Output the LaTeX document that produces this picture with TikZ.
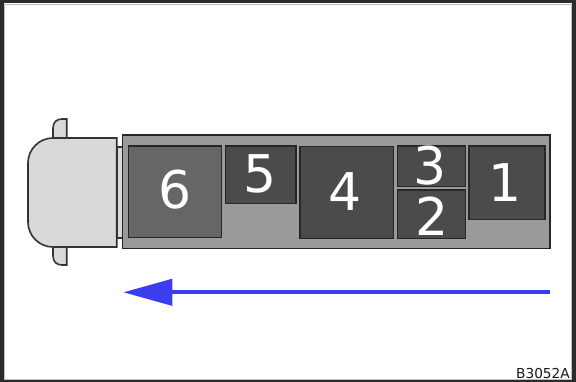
\documentclass[tikz,border=0pt]{standalone}
\usepackage{fontspec}
\setmainfont{DejaVu Sans}
\usetikzlibrary{arrows.meta}
\definecolor{framec}{HTML}{2B2B2B}
\definecolor{cabc}{HTML}{D9D9D9}
\definecolor{edgec}{HTML}{333333}
\definecolor{trailc}{HTML}{9A9A9A}
\definecolor{boxc}{HTML}{4B4B4B}
\definecolor{bigc}{HTML}{666666}
\definecolor{arrowc}{HTML}{3C3CF0}
\tikzset{
  cabpart/.style={draw=edgec, fill=cabc, line width=1.6pt},
  cargo/.style={draw=black!85, fill=boxc, line width=1.5pt},
  num/.style={text=white, font=\fontsize{52}{52}\selectfont, inner sep=0pt},
  lbl/.style={text=black!90, font=\fontsize{13.7}{14}\selectfont, inner sep=0pt, anchor=south east}
}
\begin{document}
\begin{tikzpicture}[x=1pt,y=-1pt]
\useasboundingbox (0,0) rectangle (576,382);
\fill[framec] (0,0) rectangle (576,382);
\fill[white] (3.5,3.5) rectangle (571.8,380);
\draw[black!25, line width=0.6pt] (4.5,4.5) rectangle (570.8,379);
% mirrors
\path[cabpart] (53,138) -- (53,128) .. controls (53,122) and (57,119) .. (62,119) -- (66.7,119) -- (66.7,138) -- cycle;
\path[cabpart] (53,247) -- (53,256) .. controls (53,262) and (57,265) .. (62,265) -- (66.7,265) -- (66.7,247) -- cycle;
% cab
\path[cabpart] (116.7,138) -- (53,138) .. controls (39.2,138) and (28,149.2) .. (28,163) -- (28,222) .. controls (28,235.8) and (39.2,247) .. (53,247) -- (116.7,247) -- cycle;
% coupling
\path[cabpart] (116.7,147) rectangle (122.3,238);
% trailer
\path[draw=black!85, fill=trailc, line width=1.5pt] (122.3,135) rectangle (550,248.3);
% cargo boxes
\path[cargo, fill=bigc] (128.3,146) rectangle (221.7,237.3);
\path[cargo] (225.7,146) rectangle (296,203.3);
\path[cargo] (300,146.7) rectangle (393.3,238.3);
\path[cargo] (397.3,146) rectangle (465.7,186.7);
\path[cargo] (397.3,190) rectangle (465.7,238.3);
\path[cargo] (469,146) rectangle (545,219.3);
% numbers
\node[num] (n6) at (175,190) {6};
\node[num] (n5) at (260,174) {5};
\node[num] (n4) at (345,191.7) {4};
\node[num] (n3) at (430,166) {3};
\node[num] (n2) at (431.7,216.7) {2};
\node[num] (n1) at (505,183) {1};
% arrow
\coordinate (astart) at (550,292.3);
\coordinate (aend) at (123.3,292.3);
\draw[arrowc, line width=4pt, -{Triangle[length=49pt,width=26pt]}] (astart) -- (aend);
% label
\node[lbl] (code) at (570,378.5) {B3052A};
\end{tikzpicture}
\end{document}
